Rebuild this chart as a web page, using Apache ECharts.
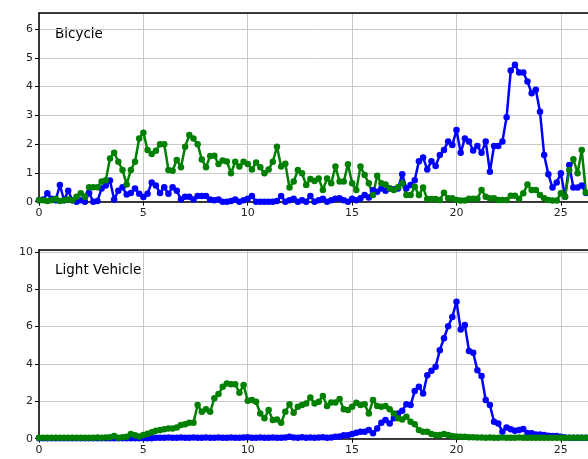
<!DOCTYPE html>
<html>
<head>
<meta charset="utf-8">
<script src="https://cdn.jsdelivr.net/npm/echarts@6/dist/echarts.min.js"></script>
<style>
  html, body { margin: 0; padding: 0; background: #fff; }
  #chart { width: 588px; height: 459px; }
</style>
</head>
<body>
<div id="chart"></div>
<script>
// samples every 0.2 on the x axis, starting at 0
var step = 0.2

var bicycleBlue = [
  0.05, 0.08, 0.29, 0.10, 0.05, 0.58, 0.05, 0.38, 0.05, 0.00,
  0.05, 0.00, 0.30, 0.00, 0.02, 0.46, 0.56, 0.74, 0.08, 0.38,
  0.50, 0.25, 0.30, 0.46, 0.28, 0.16, 0.28, 0.67, 0.56, 0.30,
  0.50, 0.28, 0.50, 0.38, 0.08, 0.17, 0.17, 0.08, 0.20, 0.20,
  0.20, 0.08, 0.05, 0.08, 0.00, 0.00, 0.02, 0.08, 0.00, 0.05,
  0.10, 0.20, 0.00, 0.00, 0.00, 0.00, 0.00, 0.02, 0.20, 0.00,
  0.05, 0.10, 0.00, 0.05, 0.00, 0.20, 0.00, 0.05, 0.10, 0.00,
  0.05, 0.10, 0.12, 0.05, 0.00, 0.10, 0.05, 0.12, 0.23, 0.15,
  0.40, 0.35, 0.46, 0.38, 0.46, 0.43, 0.46, 0.95, 0.46, 0.58,
  0.75, 1.41, 1.54, 1.12, 1.41, 1.24, 1.62, 1.80, 2.09, 1.97,
  2.49, 1.70, 2.20, 2.09, 1.78, 1.94, 1.70, 2.09, 1.04, 1.94,
  1.94, 2.09, 2.94, 4.56, 4.76, 4.49, 4.49, 4.18, 3.77, 3.89,
  3.13, 1.62, 0.95, 0.49, 0.67, 0.99, 0.17, 1.28, 0.49, 0.49,
  0.56, 0.30
]
var bicycleGreen = [
  0.05, 0.05, 0.02, 0.05, 0.10, 0.02, 0.05, 0.08, 0.05, 0.17,
  0.29, 0.17, 0.50, 0.50, 0.50, 0.70, 0.75, 1.50, 1.70, 1.39,
  1.10, 0.60, 1.10, 1.39, 2.20, 2.40, 1.80, 1.66, 1.77, 2.00,
  2.00, 1.10, 1.08, 1.45, 1.20, 1.91, 2.32, 2.20, 2.00, 1.47,
  1.20, 1.59, 1.60, 1.31, 1.43, 1.40, 0.99, 1.39, 1.22, 1.39,
  1.31, 1.12, 1.36, 1.20, 0.99, 1.12, 1.39, 1.91, 1.22, 1.32,
  0.49, 0.70, 1.10, 0.99, 0.58, 0.79, 0.72, 0.81, 0.41, 0.81,
  0.64, 1.22, 0.70, 0.70, 1.30, 0.64, 0.41, 1.22, 0.93, 0.64,
  0.23, 0.90, 0.64, 0.60, 0.46, 0.41, 0.50, 0.64, 0.23, 0.23,
  0.52, 0.23, 0.49, 0.09, 0.09, 0.09, 0.06, 0.31, 0.12, 0.12,
  0.06, 0.04, 0.04, 0.10, 0.10, 0.10, 0.41, 0.17, 0.12, 0.12,
  0.06, 0.06, 0.06, 0.21, 0.21, 0.10, 0.29, 0.60, 0.41, 0.41,
  0.23, 0.12, 0.06, 0.04, 0.04, 0.29, 0.17, 1.10, 1.48, 0.99,
  1.80, 0.32
]
var lightBlue = [
  0.02, 0.02, 0.02, 0.02, 0.02, 0.02, 0.02, 0.02, 0.02, 0.02,
  0.02, 0.02, 0.02, 0.02, 0.02, 0.02, 0.02, 0.02, 0.02, 0.02,
  0.02, 0.02, 0.02, 0.02, 0.02, 0.02, 0.02, 0.03, 0.05, 0.05,
  0.05, 0.06, 0.05, 0.05, 0.06, 0.05, 0.05, 0.06, 0.05, 0.05,
  0.06, 0.05, 0.05, 0.06, 0.05, 0.05, 0.06, 0.05, 0.05, 0.06,
  0.08, 0.05, 0.05, 0.06, 0.05, 0.05, 0.06, 0.05, 0.05, 0.06,
  0.10, 0.06, 0.05, 0.08, 0.05, 0.06, 0.05, 0.06, 0.08, 0.05,
  0.06, 0.10, 0.12, 0.18, 0.18, 0.25, 0.32, 0.37, 0.37, 0.46,
  0.29, 0.55, 0.86, 1.00, 0.82, 1.09, 1.35, 1.50, 1.85, 1.80,
  2.55, 2.78, 2.42, 3.40, 3.64, 3.85, 4.74, 5.37, 6.02, 6.52,
  7.33, 5.85, 6.08, 4.70, 4.60, 3.67, 3.35, 2.07, 1.80, 0.91,
  0.82, 0.37, 0.60, 0.50, 0.43, 0.46, 0.52, 0.30, 0.29, 0.23,
  0.23, 0.20, 0.16, 0.15, 0.14, 0.10, 0.06, 0.05, 0.05, 0.05,
  0.05, 0.05
]
var lightGreen = [
  0.05, 0.05, 0.05, 0.05, 0.05, 0.05, 0.05, 0.05, 0.05, 0.05,
  0.05, 0.05, 0.05, 0.05, 0.06, 0.05, 0.06, 0.08, 0.14, 0.05,
  0.08, 0.10, 0.25, 0.18, 0.12, 0.20, 0.27, 0.35, 0.43, 0.46,
  0.50, 0.55, 0.55, 0.60, 0.73, 0.78, 0.86, 0.86, 1.80, 1.44,
  1.57, 1.44, 2.16, 2.39, 2.78, 2.96, 2.92, 2.92, 2.46, 2.87,
  2.03, 2.07, 1.98, 1.35, 1.09, 1.53, 1.00, 1.03, 0.86, 1.44,
  1.85, 1.39, 1.71, 1.80, 1.89, 2.21, 1.89, 1.98, 2.28, 1.75,
  1.94, 1.94, 2.12, 1.57, 1.53, 1.71, 1.93, 1.80, 1.85, 1.35,
  2.07, 1.75, 1.71, 1.75, 1.57, 1.35, 1.09, 1.03, 1.18, 0.91,
  0.78, 0.46, 0.37, 0.37, 0.25, 0.20, 0.20, 0.25, 0.20, 0.14,
  0.12, 0.10, 0.10, 0.08, 0.08, 0.06, 0.06, 0.05, 0.06, 0.05,
  0.05, 0.06, 0.05, 0.05, 0.05, 0.06, 0.05, 0.05, 0.05, 0.05,
  0.05, 0.05, 0.05, 0.05, 0.05, 0.05, 0.05, 0.05, 0.05, 0.05,
  0.05, 0.05
]

var xTicks = [0, 5, 10, 15, 20, 25]

var BLUE = '#0000ff'
var GREEN = '#008000'
// the figure is cropped on the right, so the axis stops short of a round number
var X_MAX = 26.3

function toPairs (arr) {
  return arr.map(function (v, i) { return [+(i * step).toFixed(2), v] })
}

function lineSeries (arr, color, idx) {
  return {
    type: 'line',
    xAxisIndex: idx,
    yAxisIndex: idx,
    data: toPairs(arr),
    symbol: 'circle',
    symbolSize: 6.5,
    showSymbol: true,
    lineStyle: { color: color, width: 2.5 },
    itemStyle: { color: color },
    animation: false
  }
}

function xAxisOpt (idx) {
  return {
    type: 'value',
    gridIndex: idx,
    min: 0,
    max: X_MAX,
    interval: 5,
    axisLine: { show: true, onZero: false, lineStyle: { color: '#000', width: 1.5 } },
    axisTick: { show: true, length: 4, lineStyle: { color: '#000', width: 1 } },
    axisLabel: {
      color: '#222',
      fontFamily: 'DejaVu Sans',
      fontSize: 11,
      margin: 6,
      showMaxLabel: false,
      formatter: function (v) { return xTicks.indexOf(v) >= 0 ? String(v) : '' }
    },
    splitLine: { show: true, lineStyle: { color: '#c8c8c8', width: 1 } }
  }
}

// top spine only
function topSpine (idx) {
  return {
    type: 'value',
    gridIndex: idx,
    position: 'top',
    min: 0,
    max: X_MAX,
    axisLine: { show: true, onZero: false, lineStyle: { color: '#000', width: 1.5 } },
    axisTick: { show: false },
    axisLabel: { show: false },
    splitLine: { show: false }
  }
}

function yAxisOpt (idx, max, interval) {
  return {
    type: 'value',
    gridIndex: idx,
    min: 0,
    max: max,
    interval: interval,
    axisLine: { show: true, onZero: false, lineStyle: { color: '#000', width: 1.5 } },
    axisTick: { show: true, length: 4, lineStyle: { color: '#000', width: 1 } },
    axisLabel: {
      color: '#222',
      fontFamily: 'DejaVu Sans',
      fontSize: 11,
      margin: 6,
      showMaxLabel: false
    },
    splitLine: { show: true, lineStyle: { color: '#c8c8c8', width: 1 } }
  }
}

var chart = echarts.init(document.getElementById('chart'), null, { renderer: 'canvas' })
chart.setOption({
  animation: false,
  backgroundColor: '#fff',
  grid: [
    { left: 39, top: 13, right: 0, height: 188.7 },
    { left: 39, top: 250, right: 0, height: 188.7 }
  ],
  xAxis: [xAxisOpt(0), xAxisOpt(1), topSpine(0), topSpine(1)],
  yAxis: [yAxisOpt(0, 6.56, 1), yAxisOpt(1, 10.1, 2)],
  graphic: [
    { type: 'text', left: 55, top: 27, style: { text: 'Bicycle', fill: '#000', font: '13.5px "DejaVu Sans"' } },
    { type: 'text', left: 55, top: 263, style: { text: 'Light Vehicle', fill: '#000', font: '13.5px "DejaVu Sans"' } }
  ],
  series: [
    lineSeries(bicycleBlue, BLUE, 0),
    lineSeries(bicycleGreen, GREEN, 0),
    lineSeries(lightBlue, BLUE, 1),
    lineSeries(lightGreen, GREEN, 1)
  ]
})
</script>
</body>
</html>
